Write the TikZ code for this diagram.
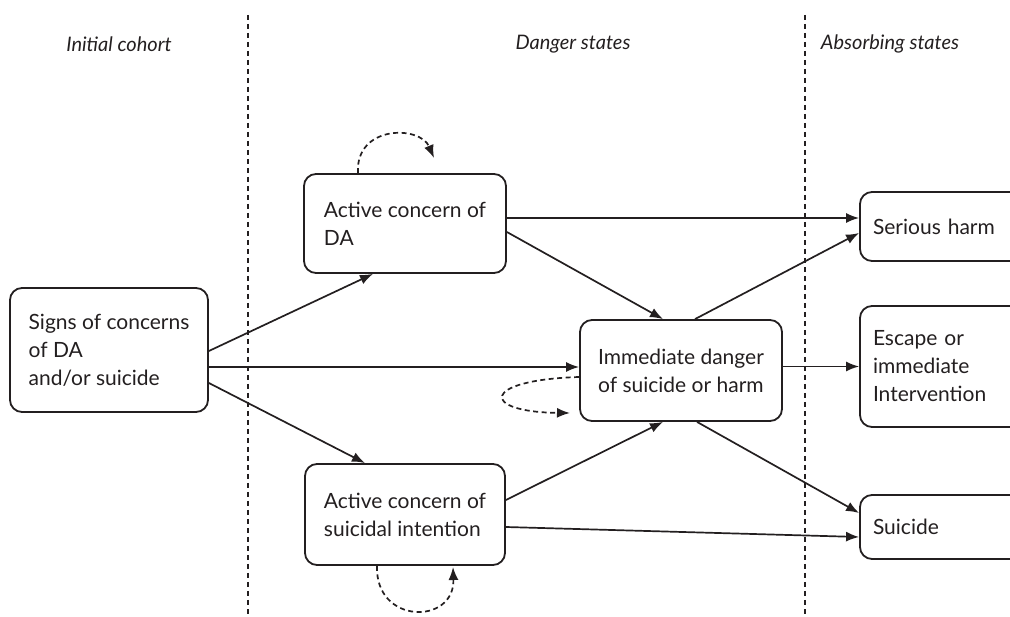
\documentclass[tikz,border=0pt]{standalone}
\usepackage{fontspec}
\setmainfont{Lato}
\usetikzlibrary{arrows.meta}
\definecolor{ink}{HTML}{231F20}
\tikzset{
  state/.style={draw=ink, text=ink, line width=1.8pt, rounded corners=12pt,
    align=left, inner sep=0pt, font=\fontsize{21}{28}\selectfont},
  absorb/.style={state, text width=144pt, inner xsep=13pt},
  head/.style={text=ink, font=\fontsize{20}{24}\selectfont\itshape},
  flow/.style={draw=ink, line width=1.7pt, -{Latex[length=13pt,width=10pt]}},
  selfloop/.style={flow, dash pattern=on 5pt off 3.5pt},
  divider/.style={draw=ink, line width=1.5pt, dash pattern=on 5pt off 4pt}
}
\begin{document}
\begin{tikzpicture}[x=1pt,y=-1pt]
      \useasboundingbox (0,0) rectangle (1010,617);
      \clip (0,0) rectangle (1010,617);
      \draw[divider] (248,15) -- (248,617);
      \draw[divider] (805,15) -- (805,617);
      \path
        (119,44) node[head] (cohort){Initial cohort}
        (573,44) node[head] (danger){Danger states}
        (890,44) node[head] (absorbing){Absorbing states};
      \path
        (109,350) node[state, minimum width=198pt, minimum height=124pt] (signs){Signs of concerns\\of DA\\and/or suicide}
        (405,223.5) node[state, minimum width=202pt, minimum height=99pt] (da){Active concern of\\DA}
        (681,370.5) node[state, minimum width=202pt, minimum height=101pt] (imm){Immediate danger\\of suicide or harm}
        (405,514.5) node[state, minimum width=200pt, minimum height=101pt] (sui){Active concern of\\suicidal intention}
        (945,226.5) node[absorb, minimum height=69pt] (harm){Serious harm}
        (945,366.5) node[absorb, minimum height=121pt] (esc){Escape or\\immediate\\Intervention}
        (945,527) node[absorb, minimum height=64pt] (suicide){Suicide};
      \coordinate (daloop) at (434,158);
      \coordinate (immloop) at (570,413);
      \coordinate (suiloop) at (453,567);
      \begin{scope}[flow]
        \draw ([yshift=-1pt]signs.east) to ([xshift=-32pt]da.south);
        \draw ([yshift=-17pt]signs.east) to ([yshift=3.5pt]imm.west);
        \draw ([yshift=-33pt]signs.east) to ([xshift=-40pt]sui.north);
        \draw ([yshift=5.5pt]da.east) to ([yshift=8.5pt]harm.west);
        \draw ([yshift=-8.5pt]da.east) to ([xshift=-18pt]imm.north);
        \draw ([xshift=14pt]imm.north) to ([yshift=-6.5pt]harm.west);
        \draw ([yshift=4pt]imm.east) to (esc.west);
        \draw ([xshift=16pt]imm.south) to ([yshift=14pt]suicide.west);
        \draw ([yshift=14.5pt]sui.east) to ([xshift=-18pt]imm.south);
        \draw ([yshift=-12.5pt]sui.east) to ([yshift=-10pt]suicide.west);
      \end{scope}
      \begin{scope}[selfloop]
        \draw ([xshift=-47pt]da.north) .. controls (355,125) and (420,125) .. (daloop);
        \draw ([yshift=-6.5pt]imm.west) .. controls (480,380) and (480,412) .. (immloop);
        \draw ([xshift=-28pt]sui.south) .. controls (375,625) and (455,625) .. (suiloop);
      \end{scope}
    \end{tikzpicture}
\end{document}
